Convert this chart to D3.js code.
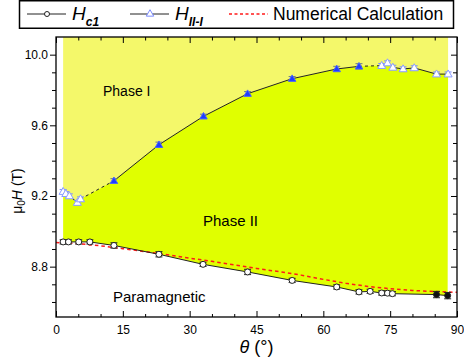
<!DOCTYPE html>
<html><head><meta charset="utf-8">
<script src="https://cdn.jsdelivr.net/npm/d3@7"></script>
<style>
html,body{margin:0;padding:0;background:#fff;}
svg{display:block;font-family:"Liberation Sans",Arial,sans-serif;}
</style></head>
<body><svg id="c" width="464" height="360"></svg>
<script>
// ---------- data ----------
const hc1Theta = [1.6, 2.8, 5.1, 7.6, 13.0, 23.1, 33.0, 43.0, 53.0, 63.0, 68.0, 70.5, 73.1, 74.4, 75.5, 85.4, 87.9];
const hc1Field = [8.940, 8.940, 8.940, 8.940, 8.920, 8.870, 8.813, 8.770, 8.722, 8.685, 8.657, 8.660, 8.651, 8.650, 8.647, 8.642, 8.636];
const hc1Err   = [0.012, 0.012, 0.012, 0.012, 0.015, 0.015, 0.012, 0.015, 0.012, 0.012, 0.012, 0.012, 0.012, 0.012, 0.012, 0.018, 0.018];
const hc1Closed = [0, 0, 0, 0, 0, 0, 0, 0, 0, 0, 0, 0, 0, 0, 0, 1, 1];

const hIIITheta = [1.6, 2.2, 3.0, 4.8, 5.5, 13.0, 23.1, 33.1, 43.0, 53.0, 63.0, 68.0, 73.1, 74.4, 75.6, 77.9, 80.4, 85.4, 88.0];
const hIIIField = [9.225, 9.213, 9.200, 9.163, 9.183, 9.286, 9.490, 9.651, 9.779, 9.864, 9.919, 9.934, 9.938, 9.953, 9.928, 9.919, 9.925, 9.890, 9.890];
const hIIIErr   = [0.012, 0.012, 0.012, 0.012, 0.012, 0.012, 0.015, 0.012, 0.012, 0.012, 0.015, 0.015, 0.012, 0.012, 0.012, 0.012, 0.012, 0.012, 0.012];
const hIIIGroup = [0, 0, 0, 0, 0, 1, 1, 1, 1, 1, 1, 1, 2, 2, 2, 2, 2, 2, 2]; // 1 = measured (filled), 0/2 = open

const calcTheta = [0, 5, 10, 15, 20, 25, 30, 35, 40, 45, 50, 55, 60, 65, 70, 75, 80, 85, 90];
const calcField = [8.937, 8.930, 8.918, 8.902, 8.885, 8.867, 8.848, 8.830, 8.810, 8.790, 8.772, 8.752, 8.728, 8.706, 8.688, 8.675, 8.665, 8.659, 8.655];

const xMajor = [0, 15, 30, 45, 60, 75, 90];
const xMinor = [5, 10, 20, 25, 35, 40, 50, 55, 65, 70, 80, 85];
const yMajor = [8.8, 9.2, 9.6, 10.0];
const yMinor = [8.6, 8.7, 8.9, 9.0, 9.1, 9.3, 9.4, 9.5, 9.7, 9.8, 9.9];

// ---------- layout ----------
const svg = d3.select("#c");
const L = 56, R = 457, T = 37, B = 317;
const x = d3.scaleLinear().domain([0, 90]).range([L, R]);
const y = d3.scaleLinear().domain([8.515, 10.1]).range([B, T]);

const COL_I = "#F4F86A", COL_II = "#E0FF00";

const hc1 = hc1Theta.map((t, i) => ({t, v: hc1Field[i], e: hc1Err[i], c: hc1Closed[i]}));
const h2 = hIIITheta.map((t, i) => ({t, v: hIIIField[i], e: hIIIErr[i], g: hIIIGroup[i]}));
const calc = calcTheta.map((t, i) => ({t, v: calcField[i]}));

// Phase I fill (above H_II-I)
svg.append("path")
  .datum(h2)
  .attr("fill", COL_I)
  .attr("d", d3.area().x(d => x(d.t)).y0(T).y1(d => y(d.v)));

// Phase II fill (between H_II-I and Hc1)
const poly = h2.map(d => [x(d.t), y(d.v)]).concat(hc1.slice().reverse().map(d => [x(d.t), y(d.v)]));
svg.append("path").attr("fill", COL_II).attr("d", d3.line()(poly) + "Z");

// numerical calculation
svg.append("path").datum(calc)
  .attr("fill", "none").attr("stroke", "#ff1a1a").attr("stroke-width", 1.5)
  .attr("stroke-dasharray", "3.5,3")
  .attr("d", d3.line().x(d => x(d.t)).y(d => y(d.v)));

const line = d3.line().x(d => x(d.t)).y(d => y(d.v));

// Hc1 line
svg.append("path").datum(hc1).attr("fill", "none").attr("stroke", "#222").attr("stroke-width", 1).attr("d", line);

// H_II-I lines: solid within groups, dashed between groups
[0, 1, 2].forEach(g => {
  svg.append("path").datum(h2.filter(d => d.g === g))
    .attr("fill", "none").attr("stroke", "#222").attr("stroke-width", 1).attr("d", line);
});
for (let i = 0; i < h2.length - 1; i++) {
  if (h2[i].g !== h2[i + 1].g) {
    svg.append("path").datum([h2[i], h2[i + 1]])
      .attr("fill", "none").attr("stroke", "#222").attr("stroke-width", 1)
      .attr("stroke-dasharray", "3,3").attr("d", line);
  }
}

// error bars
function errBars(data, color) {
  const g = svg.append("g").attr("stroke", color).attr("stroke-width", 1).attr("fill", "none");
  data.forEach(d => {
    const cx = x(d.t), y1 = y(d.v + d.e), y2 = y(d.v - d.e);
    g.append("path").attr("d", `M${cx},${y1}V${y2}M${cx - 3.5},${y1}H${cx + 3.5}M${cx - 3.5},${y2}H${cx + 3.5}`);
  });
}
errBars(hc1, "#222");
errBars(h2.filter(d => d.g === 1), "#6a7a8a");
errBars(h2.filter(d => d.g !== 1), "#7d8dff");

// Hc1 markers
svg.append("g").selectAll("circle").data(hc1).join("circle")
  .attr("cx", d => x(d.t)).attr("cy", d => y(d.v)).attr("r", 3)
  .attr("fill", d => d.c ? "#111" : "#fff").attr("stroke", "#222").attr("stroke-width", 1);

// H_II-I markers
const tri = d3.symbol().type(d3.symbolTriangle);
svg.append("g").selectAll("path").data(h2).join("path")
  .attr("transform", d => `translate(${x(d.t)},${y(d.v) + 0.5})`)
  .attr("d", d => tri.size(d.g === 1 ? 24 : 28)())
  .attr("fill", d => d.g === 1 ? "#1e3cff" : "#fff")
  .attr("stroke", d => d.g === 1 ? "#4a64ff" : "#8a9cff")
  .attr("stroke-width", 1);

// ---------- axes ----------
const axFont = "12px";
svg.append("g").attr("transform", `translate(0,${B})`)
  .call(d3.axisBottom(x).tickValues(xMajor).tickSize(-6).tickSizeOuter(0).tickPadding(8).tickFormat(d3.format("d")));
svg.append("g").attr("transform", `translate(0,${B})`)
  .call(d3.axisBottom(x).tickValues(xMinor).tickSize(-3).tickSizeOuter(0).tickFormat(""));
svg.append("g").attr("transform", `translate(0,${T})`)
  .call(d3.axisTop(x).tickValues(xMajor).tickSize(-6).tickSizeOuter(0).tickFormat(""));
svg.append("g").attr("transform", `translate(0,${T})`)
  .call(d3.axisTop(x).tickValues(xMinor).tickSize(-3.5).tickSizeOuter(0).tickFormat(""));
svg.append("g").attr("transform", `translate(${L},0)`)
  .call(d3.axisLeft(y).tickValues(yMajor).tickSize(6).tickSizeOuter(0).tickPadding(2).tickFormat(d3.format(".1f")));
svg.append("g").attr("transform", `translate(${L},0)`)
  .call(d3.axisLeft(y).tickValues(yMinor).tickSize(4).tickSizeOuter(0).tickFormat(""));
svg.append("g").attr("transform", `translate(${R},0)`)
  .call(d3.axisRight(y).tickValues(yMajor).tickSize(-6).tickSizeOuter(0).tickFormat(""));
svg.append("g").attr("transform", `translate(${R},0)`)
  .call(d3.axisRight(y).tickValues(yMinor).tickSize(-4).tickSizeOuter(0).tickFormat(""));
svg.selectAll(".domain").remove();
svg.selectAll(".tick line").attr("stroke", "#000").attr("stroke-width", 1);
svg.selectAll(".tick text").attr("font-size", axFont).attr("font-family", "Liberation Sans, Arial, sans-serif").attr("fill", "#000");

// frame
svg.append("rect").attr("x", L).attr("y", T).attr("width", R - L).attr("height", B - T)
  .attr("fill", "none").attr("stroke", "#000").attr("stroke-width", 1.3);

// axis titles
svg.append("text").attr("x", x(45)).attr("y", 353).attr("text-anchor", "middle").attr("font-size", 18)
  .call(t => { t.append("tspan").attr("font-style", "italic").text("θ"); t.append("tspan").text(" (°)"); });
svg.append("text").attr("transform", "translate(22,191) rotate(-90)").attr("text-anchor", "middle").attr("font-size", 14)
  .call(t => {
    t.append("tspan").text("μ");
    t.append("tspan").attr("font-size", 10).attr("dy", 3).text("0");
    t.append("tspan").attr("font-style", "italic").attr("dy", -3).text("H");
    t.append("tspan").text(" (T)");
  });

// region labels
svg.append("text").attr("x", 103).attr("y", 96).attr("font-size", 14).text("Phase I");
svg.append("text").attr("x", 203).attr("y", 226).attr("font-size", 15).text("Phase II");
svg.append("text").attr("x", 113).attr("y", 302).attr("font-size", 15).text("Paramagnetic");

// ---------- legend ----------
const lg = svg.append("g");
lg.append("rect").attr("x", 19.5).attr("y", 0.75).attr("width", 434).attr("height", 27.5)
  .attr("fill", "#fff").attr("stroke", "#000").attr("stroke-width", 1.5);
lg.append("line").attr("x1", 27).attr("x2", 66).attr("y1", 14).attr("y2", 14).attr("stroke", "#222");
lg.append("circle").attr("cx", 47).attr("cy", 14).attr("r", 2.5).attr("fill", "#fff").attr("stroke", "#222");
lg.append("text").attr("x", 72).attr("y", 20).attr("font-size", 19)
  .call(t => {
    t.append("tspan").attr("font-style", "italic").text("H");
    t.append("tspan").attr("font-size", 12).attr("font-style", "italic").attr("font-weight", "bold").attr("dy", 6).text("c1");
  });
lg.append("line").attr("x1", 130).attr("x2", 169).attr("y1", 14).attr("y2", 14).attr("stroke", "#222");
lg.append("path").attr("transform", "translate(150,14)").attr("d", d3.symbol().type(d3.symbolTriangle).size(24)())
  .attr("fill", "#fff").attr("stroke", "#7d8dff");
lg.append("text").attr("x", 175).attr("y", 20).attr("font-size", 19)
  .call(t => {
    t.append("tspan").attr("font-style", "italic").text("H");
    t.append("tspan").attr("font-size", 12).attr("font-style", "italic").attr("font-weight", "bold").attr("dy", 6).text("II-I");
  });
lg.append("line").attr("x1", 229).attr("x2", 268).attr("y1", 14).attr("y2", 14)
  .attr("stroke", "#ff1a1a").attr("stroke-width", 1.3).attr("stroke-dasharray", "3,2.5");
lg.append("text").attr("x", 273).attr("y", 19.5).attr("font-size", 17.5).text("Numerical Calculation");
</script>
</body></html>
